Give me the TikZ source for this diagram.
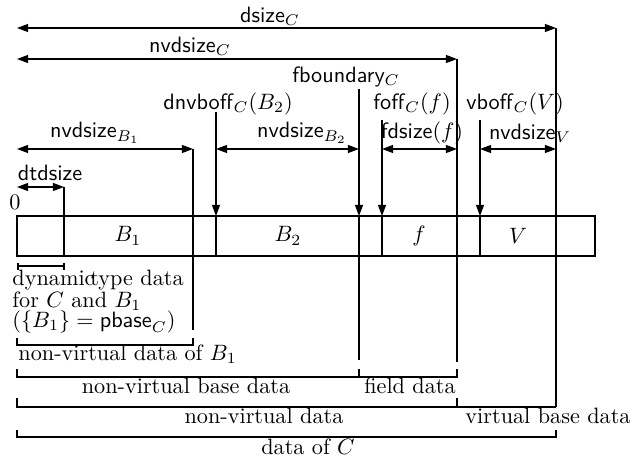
\documentclass[tikz,border=0pt]{standalone}
\usetikzlibrary{arrows.meta}
\begin{document}
\begin{tikzpicture}[x=0.45pt,y=-0.45pt,
  ln/.style={line width=0.5pt},
  tip/.tip={Triangle[length=5pt,width=3.6pt]},
  dim/.style={ln,tip-tip},
  ptr/.style={ln,-tip},
  boxline/.style={line width=1pt},
  lbl/.style={inner sep=0pt},
  sflbl/.style={inner sep=0pt},
  txt/.style={inner sep=0pt,anchor=west}
]
\useasboundingbox (0,0) rectangle (633,458);

% ---------- coordinates ----------
\coordinate (L28) at (17,28);   \coordinate (R28) at (556,28);
\coordinate (L59) at (17,59);   \coordinate (R59) at (457,59);
\coordinate (a149) at (17,149); \coordinate (b149) at (193,149);
\coordinate (c149) at (216,149);\coordinate (d149) at (359,149);
\coordinate (e149) at (382,149);\coordinate (f149) at (457,149);
\coordinate (g149) at (480,149);\coordinate (h149) at (556,149);
\coordinate (a187) at (17,187); \coordinate (b187) at (64,187);

\coordinate (t216) at (216,112);
\coordinate (t359) at (359,89);
\coordinate (t382) at (382,120);
\coordinate (t480) at (480,120);

\coordinate (top64) at (64,216);   \coordinate (bot64) at (64,256);
\coordinate (top193) at (193,216); \coordinate (end193) at (193,330);
\coordinate (top216) at (216,216); \coordinate (bot216) at (216,256);
\coordinate (top359) at (359,216); \coordinate (end359) at (359,360);
\coordinate (top382) at (382,216); \coordinate (bot382) at (382,256);
\coordinate (end457) at (457,362);
\coordinate (top480) at (480,216); \coordinate (bot480) at (480,256);
\coordinate (end556) at (556,407);

% ---------- box ----------
\draw[boxline] (17,216) rectangle (595,256);

% ---------- labels above ----------
\node[sflbl] (dsizeC) at (270,16) {\textsf{dsize}$_C$};
\node[sflbl] (nvdsizeC) at (190,46) {\textsf{nvdsize}$_C$};
\node[sflbl] (fbound) at (346,77) {\textsf{fboundary}$_C$};
\node[sflbl] (dnvboff) at (228,104) {\textsf{dnvboff}$_C(B_2)$};
\node[sflbl] (foff) at (412,104) {\textsf{foff}$_C(f)$};
\node[sflbl] (vboff) at (515,104) {\textsf{vboff}$_C(V)$};
\node[sflbl] (nvB1) at (95,133) {\textsf{nvdsize}$_{B_1}$};
\node[sflbl] (nvB2) at (302,133) {\textsf{nvdsize}$_{B_2}$};
\node[sflbl] (fdsize) at (422,133) {\textsf{fdsize}$(f)$};
\node[sflbl] (nvV) at (530,133) {\textsf{nvdsize}$_V$};
\node[sflbl] (dtd) at (50,173) {\textsf{dtdsize}};
\node[lbl] (zero) at (15,202) {$0$};

% ---------- dimension arrows ----------
\draw[dim] (L28) -- (R28);
\draw[dim] (L59) -- (R59);
\draw[dim] (a149) -- (b149);
\draw[dim] (c149) -- (d149);
\draw[dim] (e149) -- (f149);
\draw[dim] (g149) -- (h149);
\draw[dim] (a187) -- (b187);

% ---------- pointer arrows ----------
\draw[ptr] (t216) -- (top216);
\draw[ptr] (t359) -- (top359);
\draw[ptr] (t382) -- (top382);
\draw[ptr] (t480) -- (top480);

% ---------- vertical lines ----------
\draw[ln] (b187) -- (bot64);
\draw[ln] (b149) -- (end193);
\draw[ln] (top216) -- (bot216);
\draw[ln] (top359) -- (end359);
\draw[ln] (top382) -- (bot382);
\draw[ln] (R59) -- (end457);
\draw[ln] (top480) -- (bot480);
\draw[ln] (R28) -- (end556);

% ---------- box contents ----------
\node[lbl] (B1) at (128,236) {$B_1$};
\node[lbl] (B2) at (288,236) {$B_2$};
\node[lbl] (f) at (419,236) {$f$};
\node[lbl] (V) at (518,236) {$V$};

% ---------- brackets ----------
\draw[ln] (18,263) -- (18,270) (18,266) -- (64,266) (64,263) -- (64,270);
\draw[ln] (17,338) -- (17,345) -- (193,345) -- (193,338);
\draw[ln] (17,369) -- (17,377) -- (457,377) -- (457,369) (359,369) -- (359,377);
\draw[ln] (17,398) -- (17,407) -- (end556) (457,398) -- (457,407);
\draw[ln] (17,430) -- (17,437) -- (556,437) -- (556,430);

% ---------- texts below ----------
\node[txt] (dyn1) at (12,280) {dynamic};
\node[txt] (dyn2) at (90,280) {type data};
\node[txt] (for) at (12,301) {for $C$ and $B_1$};
\node[txt] (pb) at (12,322) {$(\{B_1\} = \textsf{pbase}_C)$};
\node[txt] (nvB1t) at (18,354) {non-virtual data of $B_1$};
\node[lbl] (nvbase) at (186,386) {non-virtual base data};
\node[lbl] (field) at (410,386) {field data};
\node[lbl] (nvdata) at (264,416) {non-virtual data};
\node[lbl] (vbase) at (548,416) {virtual base data};
\node[lbl] (dataC) at (308,447) {data of $C$};
\end{tikzpicture}
\end{document}
